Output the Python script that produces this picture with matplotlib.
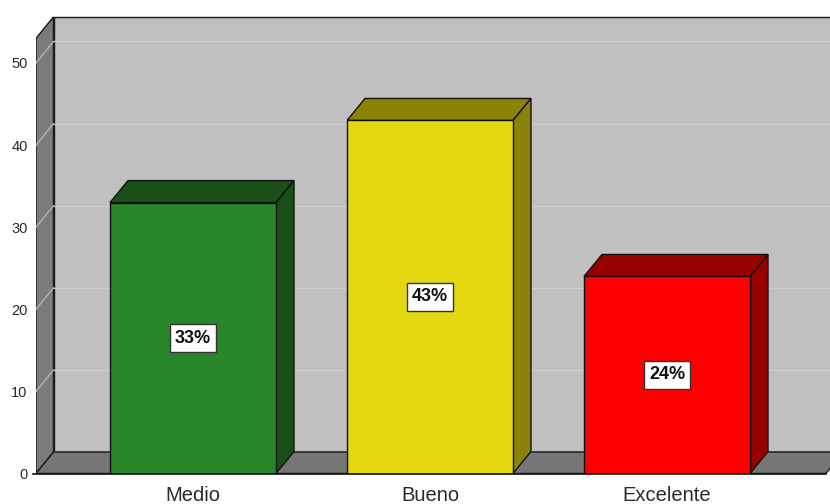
import matplotlib as mpl
mpl.use('Agg')
from matplotlib import pyplot as plt
from matplotlib.patches import Polygon

categories = ["Medio", "Bueno", "Excelente"]
values = [33, 43, 24]
pct_labels = ["33%", "43%", "24%"]
front_colors = ["#28852a", "#e3d70f", "#ff0000"]
shade_colors = ["#1b4f1a", "#8b8308", "#990000"]
yticks = [0, 10, 20, 30, 40, 50]

W, H = 830, 504
fig = plt.figure(figsize=(W / 100, H / 100), dpi=100)
fig.patch.set_facecolor("white")

# pixel geometry of the front plane
px0, py0 = 36, 473.5          # origin of the front plane
ppu = 8.21                    # pixels per value unit
pspace = 237                  # pixels between category centres
pc0 = 193                     # centre of the first category
ax = fig.add_axes([px0 / W, (H - py0) / H, (W - px0) / W, py0 / H])
ax.set_xlim(-(pc0 - px0) / pspace, (W - pc0) / pspace)
ax.set_ylim(0, py0 / ppu)

top = 53.0
ddx, ddy = 17.5 / pspace, 21.5 / ppu    # depth offset
x0 = ax.get_xlim()[0]
xr = (826 - pc0) / pspace

# walls and floor
ax.add_patch(Polygon([(x0, 0), (x0 + ddx, ddy), (x0 + ddx, top + ddy), (x0, top)],
                     closed=True, fc="#7b7b7b", ec="#1a1a1a", lw=1.0, zorder=1))
ax.add_patch(Polygon([(x0 + ddx, ddy), (xr + 2 * ddx, ddy), (xr + 2 * ddx, top + ddy),
                      (x0 + ddx, top + ddy)],
                     closed=True, fc="#c0c0c0", ec="#1a1a1a", lw=1.0, zorder=1))
ax.add_patch(Polygon([(x0, 0), (xr, 0), (xr + ddx, ddy), (x0 + ddx, ddy)],
                     closed=True, fc="#767676", ec="#1a1a1a", lw=1.0, zorder=2))

# gridlines on back and left walls
for t in yticks[1:]:
    ax.plot([x0 + ddx, xr + 2 * ddx], [t + ddy, t + ddy], color="#cdcdcd", lw=1.0, zorder=1.5)
    ax.plot([x0, x0 + ddx], [t, t + ddy], color="#b4b4b4", lw=1.0, zorder=1.5)

# bars: front face from ax.bar, top and side faces as polygons
width = 166 / pspace
xs = list(range(len(categories)))
bars = ax.bar(xs, values, width=width, color=front_colors, edgecolor="#111111",
              linewidth=1.0, zorder=4)
bdx, bdy = 18 / pspace, 22 / ppu
for x, v, sc, lab in zip(xs, values, shade_colors, pct_labels):
    l, r = x - width / 2, x + width / 2
    ax.add_patch(Polygon([(l, v), (l + bdx, v + bdy), (r + bdx, v + bdy), (r, v)],
                         closed=True, fc=sc, ec="#111111", lw=1.0, zorder=3))
    ax.add_patch(Polygon([(r, 0), (r + bdx, bdy), (r + bdx, v + bdy), (r, v)],
                         closed=True, fc=sc, ec="#111111", lw=1.0, zorder=3))
    ax.text(x, v / 2, lab, ha="center", va="center", fontsize=13, fontweight="bold",
            family="Liberation Sans", color="#111111", zorder=6,
            bbox=dict(boxstyle="square,pad=0.28", fc="white", ec="#333333", lw=1.0))

ax.set_xticks(xs)
ax.set_xticklabels(categories, family="Liberation Sans", fontsize=14.5, color="#2a2a2a")
ax.set_yticks(yticks)
ax.set_yticklabels([str(t) for t in yticks], family="Liberation Sans", fontsize=10.5,
                   color="#2a2a2a")
ax.tick_params(axis="x", length=0, pad=9)
ax.tick_params(axis="y", length=0, pad=6)
for s in ax.spines.values():
    s.set_visible(False)
ax.plot([x0 - 0.012, xr], [0, 0], color="#111111", lw=1.2, zorder=5, clip_on=False)
ax.set_facecolor("none")

fig.savefig("out.png", dpi=100)
